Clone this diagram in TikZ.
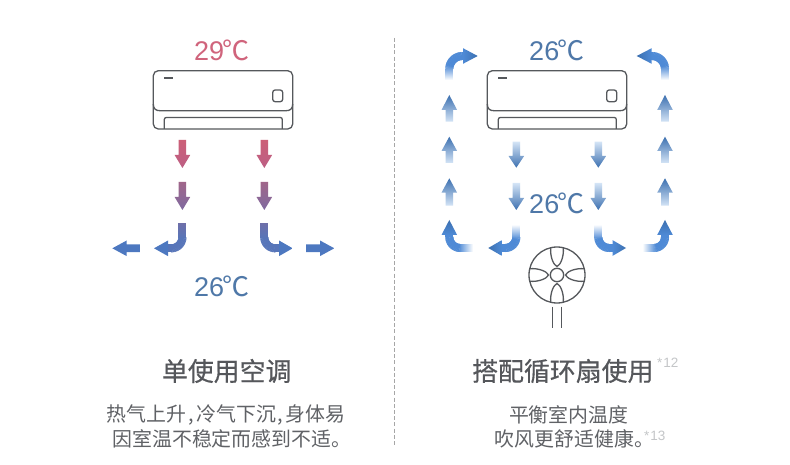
\documentclass[tikz,border=0pt]{standalone}
\usepackage{fontspec}
\setmainfont{Liberation Sans}
\newfontfamily\cjk{Noto Sans CJK SC}
\newfontfamily\cjkm[FakeBold=0.5]{Noto Sans CJK SC}
\usetikzlibrary{decorations.markings}
\definecolor{linegray}{HTML}{55585C}
\definecolor{txtgray}{HTML}{55575B}
\definecolor{bodygray}{HTML}{606266}
\definecolor{notegray}{HTML}{C4C6C8}
\definecolor{hotred}{HTML}{CC5F77}
\definecolor{hotrose}{HTML}{BC5F85}
\definecolor{plumtop}{HTML}{A0668A}
\definecolor{plumlow}{HTML}{7F6AA0}
\definecolor{coolviolet}{HTML}{6F6FA8}
\definecolor{coolblue}{HTML}{4D78C0}
\definecolor{fadewhite}{HTML}{FFFFFF}
\definecolor{airtail}{HTML}{D4E4F6}
\definecolor{airmid}{HTML}{4E8AD6}
\definecolor{airtip}{HTML}{3C70B0}
\definecolor{hot}{HTML}{D0647C}
\definecolor{tempblue}{HTML}{4F78A8}
\tikzset{
  grad shaft/.style n args={3}{
    decoration={markings,
      mark=between positions 0 and 1 step 0.5pt with {
        \pgfmathsetmacro\pp{100*\pgfkeysvalueof{/pgf/decoration/mark info/distance from start}/\pgfdecoratedpathlength}
        \pgfmathsetmacro\qqa{min(100,\pp/0.45)}
        \pgfmathsetmacro\qqb{max(0,(\pp-45)/0.55)}
        \ifdim\pp pt<45pt
          \fill[sharp corners,fill=#2!\qqa!#1] (-0.45pt,-4pt) rectangle (0.45pt,4pt);
        \else
          \fill[sharp corners,fill=#3!\qqb!#2] (-0.45pt,-4pt) rectangle (0.45pt,4pt);
        \fi
      }},
    postaction=decorate},
  unit line/.style={draw=linegray,line width=1.3pt},
  temp/.style={inner sep=0pt,font=\fontsize{27}{27}\selectfont},
  title/.style={inner sep=0pt,text=txtgray,font=\cjkm\fontsize{25.9}{26}\selectfont},
  body/.style={inner sep=0pt,text=bodygray,font=\cjk\fontsize{19.9}{20}\selectfont},
  note/.style={inner sep=0pt,text=notegray,font=\fontsize{13.5}{14}\selectfont},
}
% vertical arrow: x, tail y, base y, tip y, top/mid/bottom colour
\newcommand\vertarrow[8]{\shade[top color=#6,middle color=#7,bottom color=#8]
  (#1-3.8,#2) -- (#1+3.8,#2) -- (#1+3.8,#3) -- (#1+7.8,#3) -- (#1,#4) -- (#1-7.8,#3) -- (#1-3.8,#3) -- cycle;}
% horizontal arrow: y, tail x, base x, tip x, left/right colour
\newcommand\horizarrow[6]{\shade[left color=#5,right color=#6]
  (#2,#1-3.8) -- (#2,#1+3.8) -- (#3,#1+3.8) -- (#3,#1+7.8) -- (#4,#1) -- (#3,#1-7.8) -- (#3,#1-3.8) -- cycle;}
\newcommand\headh[5]{\shade[left color=#4,right color=#5] (#2,#1-7.8) -- (#3,#1) -- (#2,#1+7.8) -- cycle;}
\newcommand\headup[5]{\shade[top color=#4,bottom color=#5] (#1-7.8,#2) -- (#1,#3) -- (#1+7.8,#2) -- cycle;}
\newcommand\acunit[1]{
  \begin{scope}[xshift=#1]
    \draw[unit line,rounded corners=5pt] (153.3,70.7) rectangle (292.7,129);
    \draw[unit line] (153.3,104) .. controls (153.3,109) and (156,110.7) .. (160,110.7) -- (286,110.7) .. controls (290,110.7) and (292.7,109) .. (292.7,104);
    \draw[unit line,rounded corners=2pt] (164.3,129) -- (164.3,117.5) -- (282.3,117.5) -- (282.3,129);
    \draw[unit line] (164.3,78) -- (173.3,78);
    \draw[unit line,rounded corners=2.5pt] (272.7,90) rectangle (282.7,101.7);
  \end{scope}}
\begin{document}
\begin{tikzpicture}[x=1pt,y=-1pt]
\useasboundingbox (0,0) rectangle (790,465);
\fill[white] (0,0) rectangle (790,465);
% divider
\draw[draw=gray!70,line width=0.7pt,dash pattern=on 4pt off 2.2pt] (394,38) -- (394,445);
% units
\acunit{0pt}
\acunit{334pt}
% temperatures
\node[temp,text=hot] (t1) at (222,50) {29\kern-1.5pt{\cjk ℃}};
\node[temp,text=tempblue] (t2) at (222,286) {26\kern-1.5pt{\cjk ℃}};
\node[temp,text=tempblue] (t3) at (557,50) {26\kern-1.5pt{\cjk ℃}};
\node[temp,text=tempblue] (t4) at (557,203) {26\kern-1.5pt{\cjk ℃}};
% left panel arrows
\vertarrow{182.4}{140}{155}{168}{}{hotred}{hotred}{hotrose}
\vertarrow{264.3}{140}{155}{168}{}{hotred}{hotred}{hotrose}
\vertarrow{182.4}{182}{197}{210}{}{plumtop}{plumtop!50!plumlow}{plumlow}
\vertarrow{264.3}{182}{197}{210}{}{plumtop}{plumtop!50!plumlow}{plumlow}
\path[rounded corners=11pt,grad shaft={coolviolet}{coolblue!70!coolviolet}{coolblue}] (182.4,223) -- (182.4,248.3) -- (168,248.3);
\path[rounded corners=11pt,grad shaft={coolviolet}{coolblue!70!coolviolet}{coolblue}] (264.3,223) -- (264.3,248.3) -- (279,248.3);
\headh{248.3}{168}{154}{coolblue}{coolblue}
\headh{248.3}{279}{292.7}{coolblue}{coolblue}
\horizarrow{248.3}{140.7}{126.7}{112.3}{coolblue}{coolblue}
\horizarrow{248.3}{306}{320}{334.3}{coolblue}{coolblue}
% right panel straight arrows
\foreach \cx in {449.3,665}{
  \vertarrow{\cx}{121.7}{110}{95}{}{airtip}{airmid}{airtail}
  \vertarrow{\cx}{163}{151}{136.7}{}{airtip}{airmid}{airtail}
  \vertarrow{\cx}{205.7}{192.7}{178.3}{}{airtip}{airmid}{airtail}
}
\foreach \cx in {516.3,598.3}{
  \vertarrow{\cx}{141.7}{156}{167.7}{}{airtail}{airmid}{airtip}
  \vertarrow{\cx}{183}{198}{210}{}{airtail}{airmid}{airtip}
}
% right panel curved arrows
\path[rounded corners=13pt,grad shaft={fadewhite}{airmid}{airmid}] (449.3,80) -- (449.3,56) -- (463,56);
\headh{56}{463}{477.7}{airmid}{airtip}
\path[rounded corners=13pt,grad shaft={fadewhite}{airmid}{airmid}] (665,80) -- (665,56) -- (651.7,56);
\headh{56}{651.7}{636.7}{airtip}{airmid}
\path[rounded corners=11pt,grad shaft={fadewhite}{airmid}{airmid}] (516.3,225) -- (516.3,248) -- (501.7,248);
\headh{248}{501.7}{488.3}{airtip}{airmid}
\path[rounded corners=11pt,grad shaft={fadewhite}{airmid}{airmid}] (598.3,225) -- (598.3,248) -- (612.7,248);
\headh{248}{612.7}{626}{airmid}{airtip}
\path[rounded corners=11pt,grad shaft={fadewhite}{airmid}{airmid}] (473.3,248) -- (449.3,248) -- (449.3,235);
\headup{449.3}{235}{220}{airtip}{airmid}
\path[rounded corners=11pt,grad shaft={fadewhite}{airmid}{airmid}] (643.3,248) -- (665,248) -- (665,235);
\headup{665}{235}{220}{airtip}{airmid}
% fan
\begin{scope}[shift={(557,275)}]
  \draw[unit line] (0,0) circle[radius=28];
  \draw[unit line] (0,0) circle[radius=6.7];
  \foreach \ang in {0,90,180,270}{
    \draw[unit line,rotate=\ang] (-6.3,-27.3) .. controls (-7,-18) and (-3.5,-10) .. (0,-8.5) .. controls (3.5,-10) and (7,-18) .. (6.3,-27.3);
  }
\end{scope}
\draw[unit line] (552.3,306.7) -- (552.3,327.7);
\draw[unit line] (561.3,306.7) -- (561.3,327.7);
% captions
\node[title] (c1) at (226.7,371) {单使用空调};
\node[title] (c2) at (562.8,371) {搭配循环扇使用};
\node[note,anchor=west] (n1) at (657,363) {*\kern1pt 12};
\node[body,anchor=west] (b1) at (106.5,415) {热气上升\kern2pt,\kern2.5pt冷气下沉\kern2pt,\kern2.5pt身体易};
\node[body,anchor=west] (b2) at (112.2,439) {因室温不稳定而感到不适。};
\node[body] (b3) at (568.7,415) {平衡室内温度};
\node[body,anchor=base west] (b4) at (494.5,446) {吹风更舒适健康。\kern-9.7pt\raisebox{6pt}{\color{notegray}\rmfamily\fontsize{13.5}{14}\selectfont *\kern1pt 13}};
\end{tikzpicture}
\end{document}
